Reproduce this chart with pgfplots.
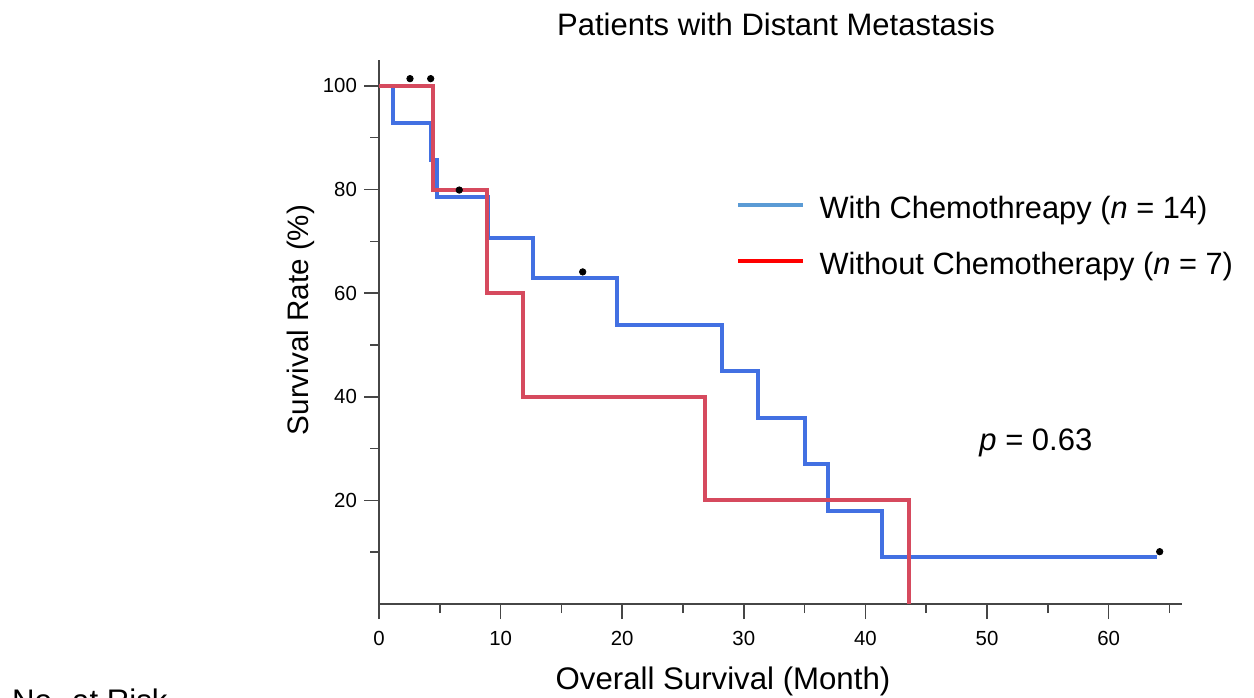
\documentclass[border=0pt]{standalone}
\usepackage{pgfplots}
\pgfplotsset{compat=1.18}
\usepackage{fontspec}
\setmainfont{Liberation Sans}
\definecolor{kmblue}{RGB}{66,112,226}
\definecolor{kmred}{RGB}{214,74,94}
\definecolor{legblue}{RGB}{91,155,213}
\definecolor{legred}{RGB}{255,0,0}
\definecolor{axisgray}{RGB}{70,70,70}
\begin{document}
\begin{tikzpicture}
\useasboundingbox (0,0) rectangle (627pt,348.5pt);
\begin{axis}[
  at={(189.5pt,46.5pt)}, anchor=south west,
  scale only axis, width=401.3pt, height=272pt,
  xmin=0, xmax=66, ymin=0, ymax=105,
  axis x line=bottom, axis y line=left,
  axis line style={-, draw=axisgray, line width=0.75pt},
  xtick={0,10,...,60}, minor xtick={5,15,...,65},
  ytick={20,40,...,100}, minor ytick={10,30,...,90},
  tick align=outside,
  major tick length=7.5pt, minor tick length=4.5pt,
  tick style={draw=axisgray, line width=0.75pt},
  /pgf/number format/assume math mode=true,
  ticklabel style={font=\fontsize{10.2}{12}\selectfont, text=black},
  xticklabel style={yshift=-2.5pt},
  clip=false,
]
\addplot[const plot, kmblue, line width=2pt] coordinates {
  (0,100) (1.18,92.86) (4.28,85.71) (4.74,78.57) (8.95,70.71)
  (12.7,62.86) (19.6,53.88) (28.2,44.90) (31.2,35.92) (35.0,26.94)
  (36.95,17.96) (41.4,8.98) (64.0,8.98)
};
\addplot[const plot, kmred, line width=2pt] coordinates {
  (0,100) (4.47,80) (8.88,60) (11.87,40) (26.8,20) (43.6,0)
};
\addplot[only marks, mark=*, mark size=1.6pt, black] coordinates {
  (2.55,101.4) (4.25,101.4) (6.6,79.9) (16.75,64.1) (64.2,10.1)
};
\end{axis}
% title and labels
\node[anchor=base, inner sep=0pt, font=\fontsize{15.5}{18}\selectfont] at (388pt,330.5pt) {Patients with Distant Metastasis};
\node[anchor=base, inner sep=0pt, font=\fontsize{15.6}{18}\selectfont] at (361.5pt,3.85pt) {Overall Survival (Month)};
\node[anchor=base, rotate=90, inner sep=0pt, font=\fontsize{14.8}{18}\selectfont] at (154pt,188.5pt) {Survival Rate (\%)};
\node[anchor=base west, inner sep=0pt, font=\fontsize{15.6}{18}\selectfont] at (5.85pt,-7pt) {No. at Risk};
% legend
\draw[legblue, line width=2pt] (369pt,246pt) -- (401.4pt,246pt);
\draw[legred, line width=2pt] (369pt,218pt) -- (401.4pt,218pt);
\node[anchor=base west, inner sep=0pt, font=\fontsize{15.4}{18}\selectfont] at (409.6pt,239.35pt) {With Chemothreapy (\textit{n} = 14)};
\node[anchor=base west, inner sep=0pt, font=\fontsize{15.4}{18}\selectfont] at (409.6pt,211.35pt) {Without Chemotherapy (\textit{n} = 7)};
% p value
\node[anchor=base west, inner sep=0pt, font=\fontsize{15.5}{18}\selectfont] at (489.5pt,123pt) {\textit{p} = 0.63};
\end{tikzpicture}
\end{document}
